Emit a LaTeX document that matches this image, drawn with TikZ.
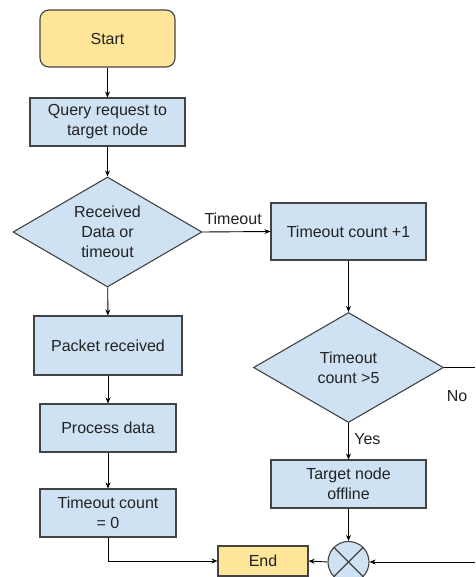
\documentclass[tikz,border=0pt]{standalone}
\usepackage{fontspec}
\setmainfont{Liberation Sans}
\usetikzlibrary{shapes.geometric,arrows.meta}
\definecolor{boxblue}{HTML}{CFE2F3}
\definecolor{boxyellow}{HTML}{FFE599}
\definecolor{edge}{HTML}{434343}
\definecolor{ink}{HTML}{222222}
\begin{document}
\begin{tikzpicture}[x=1pt,y=-1pt,
  every node/.style={font=\fontsize{16}{20}\selectfont, align=center, text=ink},
  proc/.style={draw=edge, line width=1.1pt, fill=boxblue, rectangle, inner sep=0pt},
  term/.style={draw=edge, line width=1.1pt, fill=boxyellow, inner sep=0pt},
  decide/.style={draw=edge, line width=1.1pt, fill=boxblue, diamond, aspect=1.72, inner sep=0pt,
                 minimum width=189pt, minimum height=110pt},
  flow/.style={draw=black, line width=0.9pt, -{Stealth[length=6pt,width=5pt]}},
  plain/.style={draw=black, line width=0.9pt}]
\useasboundingbox (0,0) rectangle (475,577);
\fill[white] (0,0) rectangle (475,577);

% left column
\node[term, rounded corners=9pt, minimum width=135pt, minimum height=57pt] (start) at (107.5,38.5) {Start};
\node[proc, minimum width=155pt, minimum height=48pt] (query) at (107.5,122) {Query request to\\target node};
\node[decide] (recv) at (107.5,232) {Received\\Data or\\timeout};
\node[proc, minimum width=148pt, minimum height=59pt] (packet) at (108,345.5) {Packet received};
\node[proc, minimum width=136pt, minimum height=48pt] (process) at (108,428) {Process data};
\node[proc, minimum width=136pt, minimum height=48pt] (reset) at (108,513) {Timeout count\\= 0};

% right column
\node[proc, minimum width=155pt, minimum height=57pt] (incr) at (348.5,231.5) {Timeout count +1};
\node[decide, minimum width=190pt] (limit) at (348.5,367.5) {Timeout\\count >5};
\node[proc, minimum width=155pt, minimum height=48pt] (offline) at (348.5,484) {Target node\\offline};

% merge point and end
\node[term, rectangle, minimum width=90pt, minimum height=30pt] (end) at (263,561) {End};
\node[draw=edge, line width=1.1pt, fill=boxblue, circle, minimum size=41pt, inner sep=0pt] (merge) at (348.5,562) {};
\draw[edge, line width=1.1pt] (merge.45) -- (merge.225) (merge.135) -- (merge.315);

\coordinate (noout) at (475,367.5);
\coordinate (loopin) at (475,562);

% connectors
\draw[flow] (start) -- (query);
\draw[flow] (query) -- (recv);
\draw[flow] (recv.east) -- node[above, pos=0.45, yshift=3pt] {Timeout} (incr.west);
\draw[flow] (recv) -- (packet);
\draw[flow] (packet) -- (process);
\draw[flow] (process) -- (reset);
\draw[flow] (incr) -- (limit);
\draw[flow] (limit.south) -- node[right, pos=0.45, xshift=2pt] {Yes} (offline.north);
\draw[flow] (offline) -- (merge);
\draw[plain] (limit.east) -- (noout);
\node (nolabel) at (457,396) {No};
\draw[flow] (loopin) -- (merge.east);
\draw[flow] (merge.west) -- (end.east);
\draw[flow] (reset.south) |- (end.west);
\end{tikzpicture}
\end{document}
